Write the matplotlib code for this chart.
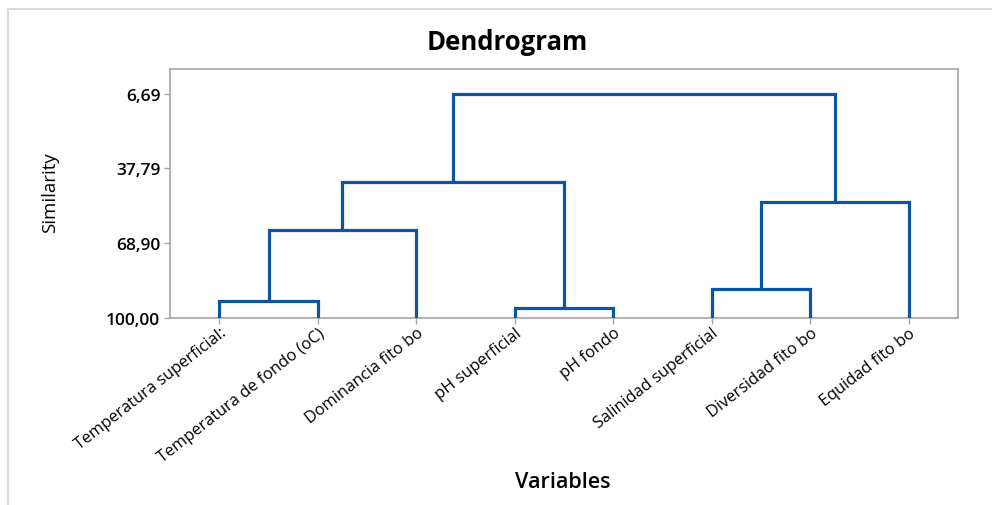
import matplotlib
matplotlib.use("Agg")
import matplotlib.pyplot as plt
from matplotlib.lines import Line2D

variables = ["Temperatura superficial:", "Temperatura de fondo (oC)", "Dominancia fito bo",
             "pH superficial", "pH fondo", "Salinidad superficial",
             "Diversidad fito bo", "Equidad fito bo"]

# merge steps: (cluster a, cluster b, similarity); new clusters numbered from 8
merge_left = [3, 0, 5, 9, 10, 11, 13]
merge_right = [4, 1, 6, 2, 7, 8, 12]
merge_sim = [95.96, 93.17, 88.04, 63.47, 51.93, 43.35, 6.69]

sim_ticks = [6.69, 37.79, 68.90, 100.00]

BLUE = "#0B55A5"
GRAY = "#A6A6A6"

plt.rcParams['font.family'] = ['Open Sans', 'DejaVu Sans']

fig = plt.figure(figsize=(9.92, 5.06), dpi=100)
ax = fig.add_axes([170 / 992, 1 - 318.7 / 506, 788 / 992, 248.7 / 506])

# leaf positions 1..8, cluster position/height tracked as merges happen
pos = {i: i + 1 for i in range(len(variables))}
height = {i: 100.0 for i in range(len(variables))}
for k, (a, b, s) in enumerate(zip(merge_left, merge_right, merge_sim)):
    xa, xb = pos[a], pos[b]
    ax.plot([xa, xa, xb, xb], [height[a], s, s, height[b]],
            color=BLUE, lw=2.3, solid_joinstyle="miter", solid_capstyle="butt", zorder=3)
    new = len(variables) + k
    pos[new] = (xa + xb) / 2
    height[new] = s

ax.set_xlim(0.5, 8.5)
ax.set_ylim(100, -3.6)
ax.set_yticks(sim_ticks)
ax.set_yticklabels([f"{v:.2f}".replace(".", ",") for v in sim_ticks],
                   fontsize=12.5, fontweight="semibold")
ax.set_xticks(range(1, len(variables) + 1))
ax.set_xticklabels(variables, rotation=38, ha="right", rotation_mode="anchor", fontsize=11.8)
ax.tick_params(axis="both", direction="out", length=4, color=GRAY, width=1)
ax.tick_params(axis="x", pad=1)
ax.tick_params(axis="y", pad=3)
for sp in ax.spines.values():
    sp.set_color(GRAY)
    sp.set_linewidth(1.2)

fig.text(507 / 992, 1 - 43 / 506, "Dendrogram", ha="center", va="center",
         fontsize=18.5, fontweight="bold")
fig.text(50 / 992, 1 - 193 / 506, "Similarity", rotation=90, ha="center", va="center",
         fontsize=13.5)
fig.text(563 / 992, 1 - 483 / 506, "Variables", ha="center", va="center",
         fontsize=15.5, fontweight="semibold")

# outer frame (top and left edges)
fig.add_artist(Line2D([8 / 992, 1.0], [1 - 10 / 506, 1 - 10 / 506], transform=fig.transFigure,
                      color="#D9D9D9", lw=1.5))
fig.add_artist(Line2D([8 / 992, 8 / 992], [1 - 10 / 506, 0.0], transform=fig.transFigure,
                      color="#D9D9D9", lw=1.5))

fig.savefig("out.png", dpi=100)
